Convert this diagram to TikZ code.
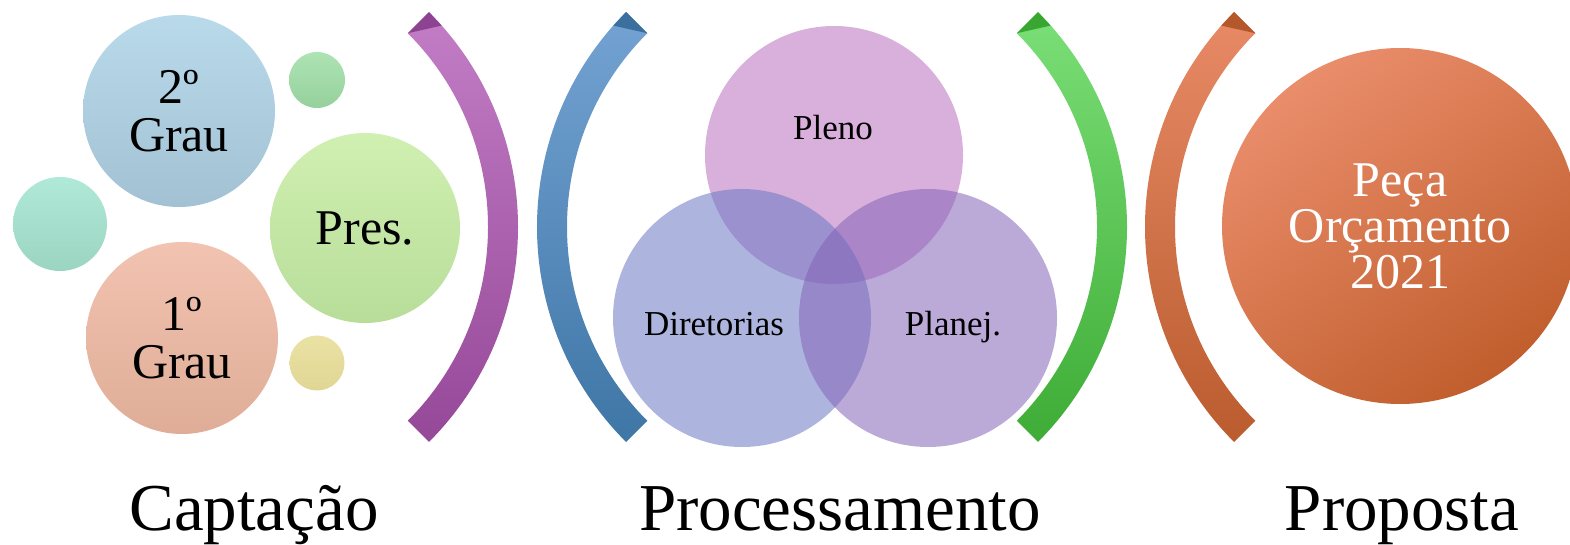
\documentclass[tikz,border=0pt]{standalone}
\usepackage{fontspec}
\setmainfont{Liberation Serif}
\usepackage{tikz}
\usetikzlibrary{shapes.geometric}
\usetikzlibrary{calc}
\usetikzlibrary{positioning}

\definecolor{plumT}{HTML}{C37DC6}
\definecolor{plumB}{HTML}{954898}
\definecolor{plumD}{HTML}{8E4392}
\definecolor{steelT}{HTML}{74A3D3}
\definecolor{steelB}{HTML}{3E76A6}
\definecolor{steelD}{HTML}{3A6F9E}
\definecolor{leafT}{HTML}{7BDF77}
\definecolor{leafB}{HTML}{3EAC36}
\definecolor{leafD}{HTML}{3AA632}
\definecolor{rustT}{HTML}{E88A66}
\definecolor{rustB}{HTML}{BA5C2E}
\definecolor{rustD}{HTML}{B4572A}
\definecolor{skyT}{HTML}{B9DAEB}
\definecolor{skyB}{HTML}{A2C2D4}
\definecolor{mintT}{HTML}{B0E9D7}
\definecolor{mintB}{HTML}{9CD4C2}
\definecolor{peachT}{HTML}{F2C3B1}
\definecolor{peachB}{HTML}{DFAD97}
\definecolor{limeT}{HTML}{D0F0B1}
\definecolor{limeB}{HTML}{B8DD99}
\definecolor{dotgT}{HTML}{AEE3B4}
\definecolor{dotgB}{HTML}{95D19C}
\definecolor{doty}{HTML}{EAE2A4}
\definecolor{dotyB}{HTML}{E0D694}
\definecolor{plenoC}{RGB}{186,111,190}
\definecolor{diretC}{RGB}{106,121,195}
\definecolor{planC}{RGB}{131,99,184}
\definecolor{orangeT}{HTML}{EA8D6B}
\definecolor{orangeB}{HTML}{C05E2D}

\tikzset{
  bubble/.style={circle, inner sep=0pt, align=center, font=\fontsize{50}{48}\selectfont},
  venn/.style={circle, inner sep=0pt, minimum size=258, fill opacity=0.55},
  venntext/.style={anchor=base, font=\fontsize{35}{38}\selectfont},
  caption/.style={anchor=base, font=\fontsize{67}{70}\selectfont}
}

\begin{document}
\begin{tikzpicture}[x=1pt,y=-1pt]
\useasboundingbox (0,0) rectangle (1570,545);
\foreach \cx/\s/\ct/\cb/\cd in {214/1/plumT/plumB/plumD, 841/-1/steelT/steelB/steelD, 823/1/leafT/leafB/leafD, 1449/-1/rustT/rustB/rustD}
{
  \pgfmathsetmacro\T{90-135*\s}
  \pgfmathsetmacro\E{\T+90*\s}
  \begin{scope}[shift={(\cx,227)}]
    \shade[top color=\ct, bottom color=\cb] (\T:304) arc[start angle=\T, end angle=\E, radius=304]
      -- (\E:274) arc[start angle=\E, end angle=\T, radius=274] -- cycle;
    \fill[\cd] (\T:304) -- (\T:274) -- (\T+3.5*\s:304) -- cycle;
  \end{scope}
}

\node[bubble, minimum size=192, top color=skyT, bottom color=skyB] (grau2) at (179,111) {2º\\Grau};
\node[bubble, minimum size=94, top color=mintT, bottom color=mintB] (dotleft) at (60,224) {};
\node[bubble, minimum size=192, top color=peachT, bottom color=peachB] (grau1) at (182,338) {1º\\Grau};
\node[bubble, minimum size=190, top color=limeT, bottom color=limeB] (pres) at (365,228) {Pres.};
\node[bubble, minimum size=56, top color=dotgT, bottom color=dotgB] (dottop) at (317,80) {};
\node[bubble, minimum size=55, top color=doty, bottom color=dotyB] (dotbot) at (317,363) {};

\node[venn, fill=plenoC] (vpleno) at (834,155) {};
\node[venn, fill=diretC] (vdiret) at (742,318) {};
\node[venn, fill=planC] (vplan) at (928,318) {};
\node[venntext] (pleno) at (833,140) {Pleno};
\node[venntext] (diret) at (714,335) {Diretorias};
\node[venntext] (plan) at (953,335) {Planej.};

\node[bubble, minimum size=356, top color=orangeT, bottom color=orangeB, shading angle=35,
  text=white, font=\fontsize{50}{46}\selectfont] (peca) at (1400,226) {Peça\\Orçamento\\2021};

\node[caption] (capt) at (254,530) {Captação};
\node[caption] (proc) at (840,530) {Processamento};
\node[caption] (prop) at (1402,530) {Proposta};
\end{tikzpicture}
\end{document}
